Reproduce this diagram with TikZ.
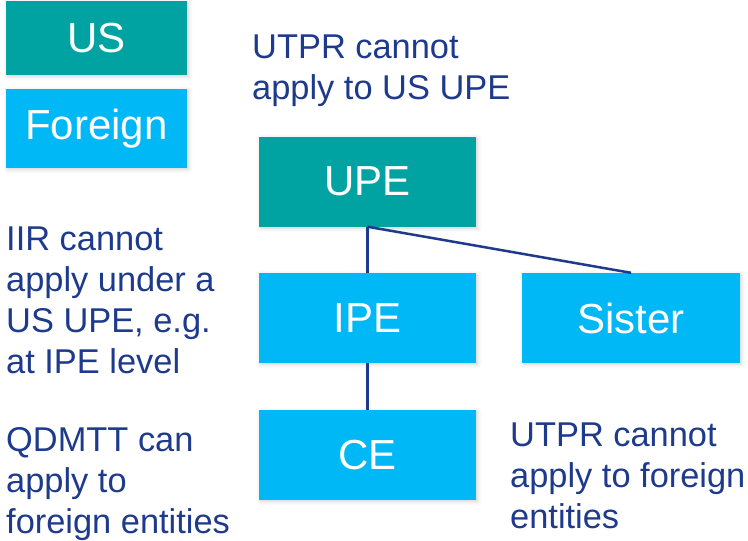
\documentclass[tikz,border=0pt]{standalone}
\usepackage{fontspec}
\setmainfont{Liberation Sans}
\usepackage{xcolor}
\usepackage{tikz}
\usetikzlibrary{shadows.blur}
\definecolor{usteal}{HTML}{00A3A1}
\definecolor{fgnblue}{HTML}{00B8F5}
\definecolor{navy}{HTML}{1E3A8C}
\tikzset{
  ent/.style={
    minimum width=217pt, minimum height=90pt, inner sep=0pt,
    text=white, font=\fontsize{42}{48}\selectfont,
    blur shadow={shadow xshift=1.5pt, shadow yshift=-1.5pt,
      shadow blur radius=4pt, shadow opacity=18}
  },
  usbox/.style={ent, fill=usteal},
  fgnbox/.style={ent, fill=fgnblue},
  link/.style={draw=navy, line width=2.5pt},
  note/.style={
    anchor=north west, align=left, inner sep=0pt,
    text=navy, font=\fontsize{34.4}{41}\selectfont
  }
}

\begin{document}
\begin{tikzpicture}[x=1pt, y=-1pt]
  \useasboundingbox (0,0) rectangle (748,541);

  % key
  \node[usbox, minimum width=181pt, minimum height=74pt] (keyus) at (96.5,38) {US};
  \node[fgnbox, minimum width=181pt, minimum height=79pt] (keyfgn) at (96.5,128.5) {Foreign};

  % group structure
  \node[usbox] (upe) at (367.5,181.5) {UPE};
  \node[fgnbox] (ipe) at (367.5,318) {IPE};
  \node[fgnbox, minimum width=218pt] (sister) at (631,318) {Sister};
  \node[fgnbox] (ce) at (367.5,455) {CE};

  \draw[link] (upe.south) -- (ipe.north);
  \draw[link] (upe.south) -- (sister.north);
  \draw[link] (ipe.south) -- (ce.north);

  % notes
  \node[note] (utprus) at (252,34.4) {UTPR cannot\\apply to US UPE};
  \node[note] (iir) at (6,226.5) {IIR cannot\\apply under a\\US UPE, e.g.\\at IPE level};
  \node[note] (qdmtt) at (6,427.5) {QDMTT can\\apply to\\foreign entities};
  \node[note] (utprfgn) at (510,422.5) {UTPR cannot\\apply to foreign\\entities};
\end{tikzpicture}
\end{document}
